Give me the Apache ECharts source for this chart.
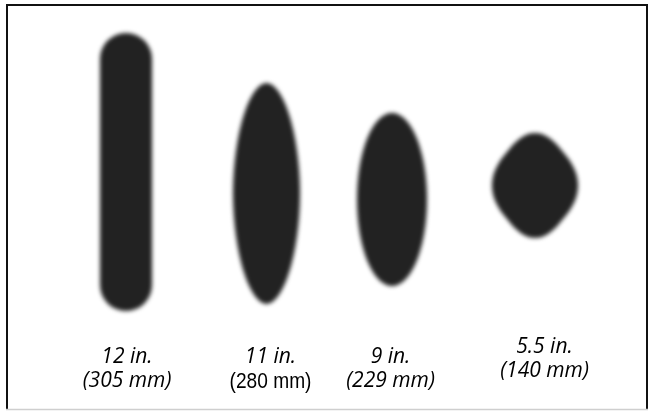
<!DOCTYPE html>
<html><head><meta charset="utf-8">
<script src="https://cdn.jsdelivr.net/npm/echarts@6/dist/echarts.min.js"></script>
<style>
html,body{margin:0;padding:0;background:#fff;}
#chart{width:649px;height:412px;}
#chart canvas[data-zr-dom-id="zr_1"]{filter:blur(2px);}
</style></head><body><div id="chart"></div>
<script>
// Spray pattern data (plot units)
const patternInches = ['12 in.', '11 in.', '9 in.', '5.5 in.'];
const patternMetric = ['(305 mm)', '(280 mm)', '(229 mm)', '(140 mm)'];
const metricItalic = [true, false, true, true];
const patternShape = ['capsule', 'ellipse', 'ellipse', 'diamond'];
const patternCenterX = [126, 266.5, 392, 535];
const patternCenterY = [172, 193.5, 199.5, 185.5];
const patternWidth = [52, 67, 70, 86];
const patternHeight = [278, 221, 173, 105];
const shapeExponent = [2, 1.9, 2, 2];
const labelX = [127, 270.5, 390.5, 544.5];
const labelBaseline = [363, 363, 363, 353];

const shapeData = patternCenterX.map((x, i) => [x, patternCenterY[i], patternWidth[i], patternHeight[i]]);
const labelData = labelX.map((x, i) => [x, labelBaseline[i]]);

function superEllipse(cx, cy, a, b, n) {
  const pts = [];
  const N = 120;
  for (let k = 0; k < N; k++) {
    const t = k / N * Math.PI * 2;
    const c = Math.cos(t), s = Math.sin(t);
    pts.push([cx + a * Math.sign(c) * Math.pow(Math.abs(c), 2 / n),
              cy + b * Math.sign(s) * Math.pow(Math.abs(s), 2 / n)]);
  }
  return pts;
}
function roundedDiamond(cx, cy, a, b, f) {
  const A = a / (1 - f / 2), B = b / (1 - f / 2);
  const C = [[cx, cy - B], [cx + A, cy], [cx, cy + B], [cx - A, cy]];
  const pts = [];
  for (let i = 0; i < 4; i++) {
    const prev = C[(i + 3) % 4], cur = C[i], next = C[(i + 1) % 4];
    const p0 = [cur[0] + f * (prev[0] - cur[0]), cur[1] + f * (prev[1] - cur[1])];
    const p2 = [cur[0] + f * (next[0] - cur[0]), cur[1] + f * (next[1] - cur[1])];
    for (let k = 0; k <= 20; k++) {
      const t = k / 20, u = 1 - t;
      pts.push([u * u * p0[0] + 2 * u * t * cur[0] + t * t * p2[0],
                u * u * p0[1] + 2 * u * t * cur[1] + t * t * p2[1]]);
    }
  }
  return pts;
}

function renderShape(params, api) {
  const i = params.dataIndex;
  const c = api.coord([api.value(0), api.value(1)]);
  const s = api.size([api.value(2), api.value(3)]);
  const w = Math.abs(s[0]), h = Math.abs(s[1]);
  const kind = patternShape[i];
  const style = { fill: '#222222' };
  if (kind === 'capsule') {
    return { type: 'rect', shape: { x: c[0] - w / 2, y: c[1] - h / 2, width: w, height: h, r: w / 2 }, style };
  }
  if (kind === 'diamond') {
    return { type: 'polygon', shape: { points: roundedDiamond(c[0], c[1], w / 2, h / 2, 0.45) }, style };
  }
  return { type: 'polygon', shape: { points: superEllipse(c[0], c[1], w / 2, h / 2, shapeExponent[i]) }, style };
}

function renderLabel(params, api) {
  const i = params.dataIndex;
  const c = api.coord([api.value(0), api.value(1)]);
  const italicFont = 'italic 21px "Open Sans", "Noto Sans", sans-serif';
  const plainFont = '22px "Liberation Sans", Arial, sans-serif';
  const second = metricItalic[i]
    ? { type: 'text', x: c[0], y: c[1] + 24.5 - 6,
        style: { text: patternMetric[i], font: italicFont, fill: '#000', align: 'center', verticalAlign: 'middle' } }
    : { type: 'text', x: c[0], y: c[1] + 24.5 - 6, scaleX: 0.87,
        style: { text: patternMetric[i], font: plainFont, fill: '#000', align: 'center', verticalAlign: 'middle' } };
  return {
    type: 'group',
    children: [
      { type: 'text', x: c[0], y: c[1] - 6,
        style: { text: patternInches[i], font: italicFont, fill: '#000', align: 'center', verticalAlign: 'middle' } },
      second
    ]
  };
}

const chart = echarts.init(document.getElementById('chart'), null, { renderer: 'canvas' });
chart.setOption({
  animation: false,
  backgroundColor: '#ffffff',
  grid: { left: 0, right: 0, top: 0, bottom: 0 },
  xAxis: { type: 'value', min: 0, max: 649, show: false },
  yAxis: { type: 'value', min: 0, max: 412, inverse: true, show: false },
  graphic: [
    { type: 'line', shape: { x1: 6, y1: 5, x2: 648, y2: 5 }, style: { stroke: '#111', lineWidth: 2 } },
    { type: 'line', shape: { x1: 7, y1: 4, x2: 7, y2: 410 }, style: { stroke: '#111', lineWidth: 2 } },
    { type: 'line', shape: { x1: 647, y1: 4, x2: 647, y2: 410 }, style: { stroke: '#111', lineWidth: 2 } },
    { type: 'line', shape: { x1: 6, y1: 409.5, x2: 648, y2: 409.5 }, style: { stroke: '#cfcfcf', lineWidth: 1.5 } }
  ],
  series: [
    { type: 'custom', zlevel: 1, silent: true, renderItem: renderShape, data: shapeData, clip: false },
    { type: 'custom', zlevel: 0, silent: true, renderItem: renderLabel, data: labelData, clip: false }
  ]
});
</script></body></html>
